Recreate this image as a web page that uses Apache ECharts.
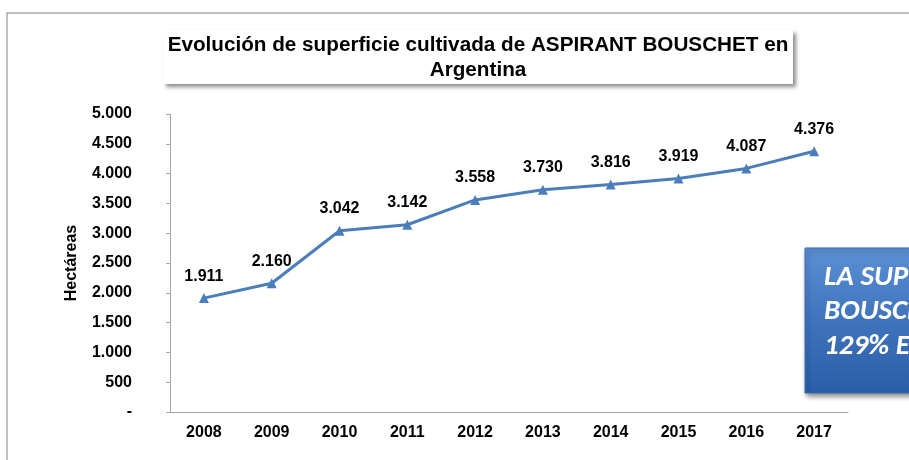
<!DOCTYPE html>
<html>
<head>
<meta charset="utf-8">
<script src="https://cdn.jsdelivr.net/npm/echarts@6/dist/echarts.min.js"></script>
<style>
  html, body { margin: 0; padding: 0; background: #fff; }
  #main { width: 909px; height: 460px; }
</style>
</head>
<body>
<div id="main"></div>
<script>
// años y superficie (ha)
var years = ['2008', '2009', '2010', '2011', '2012', '2013', '2014', '2015', '2016', '2017'];
var hectareas = [1911, 2160, 3042, 3142, 3558, 3730, 3816, 3919, 4087, 4376];
var tituloLineas = ['Evolución de superficie cultivada de ASPIRANT BOUSCHET en', 'Argentina'];
var cajaLineas = ['LA SUPERFICIE DE', 'BOUSCHET CRECIÓ', '129% EN 10 AÑOS'];

var FONT = 'Liberation Sans, Arial, sans-serif';

function fmt(v) {
  if (v === 0) return '-';
  return String(v).replace(/\B(?=(\d{3})+(?!\d))/g, '.');
}

var myChart = echarts.init(document.getElementById('main'));

var option = {
  backgroundColor: '#fff',
  animation: false,
  grid: { left: 170, right: 61, top: 114, bottom: 48 },
  xAxis: {
    type: 'category',
    data: years,
    boundaryGap: true,
    axisLine: { lineStyle: { color: '#a6a6a6', width: 1 } },
    axisTick: { inside: true, length: 5, lineStyle: { color: '#a6a6a6' } },
    axisLabel: { color: '#000', fontFamily: FONT, fontWeight: 'bold', fontSize: 16, margin: 13 }
  },
  yAxis: {
    type: 'value',
    min: 0,
    max: 5000,
    interval: 500,
    name: 'Hectáreas',
    nameLocation: 'middle',
    nameGap: 90,
    nameRotate: 90,
    nameTextStyle: { color: '#000', fontFamily: FONT, fontWeight: 'bold', fontSize: 16 },
    axisLine: { show: true, lineStyle: { color: '#a6a6a6', width: 1 } },
    axisTick: { show: true, length: 4, lineStyle: { color: '#a6a6a6' } },
    splitLine: { show: false },
    axisLabel: {
      color: '#000', fontFamily: FONT, fontWeight: 'bold', fontSize: 16, margin: 38,
      formatter: fmt
    }
  },
  series: [{
    type: 'line',
    data: hectareas,
    symbol: 'triangle',
    symbolSize: 10,
    lineStyle: { color: '#4a7ebb', width: 3 },
    itemStyle: { color: '#4a7ebb' },
    label: {
      show: true,
      position: 'top',
      distance: 9,
      color: '#000',
      fontFamily: FONT,
      fontWeight: 'bold',
      fontSize: 16,
      formatter: function(p) { return fmt(p.value); }
    }
  }],
  graphic: [
    // marco exterior
    {
      type: 'rect', z: -10,
      shape: { x: 7, y: 13, width: 920, height: 470 },
      style: { fill: 'none', stroke: '#aaaaaa', lineWidth: 1.5 }
    },
    // caja del título
    {
      type: 'rect', z: 5,
      shape: { x: 163, y: 30, width: 630, height: 54 },
      style: {
        fill: '#fff',
        shadowColor: 'rgba(0,0,0,0.45)', shadowBlur: 4, shadowOffsetX: 3, shadowOffsetY: 3
      }
    },
    {
      type: 'text', z: 6,
      x: 478, y: 33,
      style: {
        text: tituloLineas.join('\n'),
        fill: '#000',
        font: 'bold 20.7px ' + FONT,
        align: 'center',
        verticalAlign: 'top',
        lineHeight: 25
      }
    },
    // caja azul
    {
      type: 'rect', z: 5,
      shape: { x: 805, y: 248, width: 140, height: 145 },
      style: {
        fill: new echarts.graphic.LinearGradient(0, 0, 0, 1, [
          { offset: 0, color: '#5b90d6' },
          { offset: 0.5, color: '#3f74bd' },
          { offset: 1, color: '#2a5ea8' }
        ]),
        stroke: '#3a6cb0',
        lineWidth: 1,
        shadowColor: 'rgba(0,0,0,0.45)', shadowBlur: 5, shadowOffsetX: 2, shadowOffsetY: 3
      }
    },
    {
      type: 'text', z: 6,
      x: 824, y: 260,
      style: {
        text: cajaLineas.join('\n'),
        fill: '#fff',
        font: 'italic bold 29px Carlito, "Open Sans", ' + FONT,
        verticalAlign: 'top',
        lineHeight: 34.5
      }
    }
  ]
};

myChart.setOption(option);
</script>
</body>
</html>
